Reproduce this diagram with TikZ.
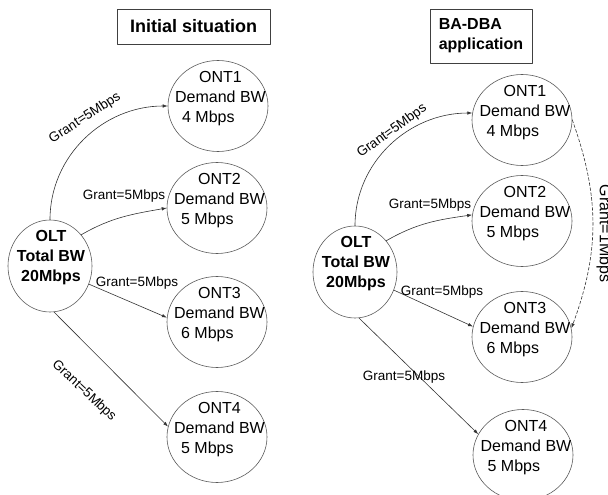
\documentclass[tikz,border=0pt]{standalone}
\usepackage{fontspec}
\setmainfont{Liberation Sans}
\usetikzlibrary{shapes.geometric,arrows.meta}
\begin{document}
\begin{tikzpicture}[x=1pt, y=1pt, line cap=round, line join=round, >={Latex[length=5pt,width=3.5pt]}]
	\tikzset{ont/.style={ellipse, draw=black!65, line width=0.6pt, minimum width=100pt, minimum height=91pt, inner sep=0pt},
		ont text/.style={align=left, inner sep=0pt, font=\fontsize{16}{20}\selectfont},
		olt text/.style={align=center, inner sep=0pt, font=\fontsize{16}{20}\selectfont\bfseries},
		grant/.style={inner sep=0pt, font=\fontsize{13.5}{16}\selectfont},
		link/.style={->, draw=black!80, line width=0.6pt},
		title box/.style={draw=black!75, line width=0.6pt, inner sep=0pt, font=\fontsize{16}{20}\selectfont\bfseries}}
	\useasboundingbox (0,0) rectangle (608,-495);
	% left half: initial situation
	\node[title box, minimum width=153pt, minimum height=35pt, font=\fontsize{18}{22}\selectfont\bfseries] (titleL) at (193.5,-26.5) {Initial situation};
	\node[ont, minimum width=84pt, minimum height=92pt] (oltL) at (50,-266) {};
	\node[olt text] at ([shift={(1,8)}]oltL.center) {OLT\\Total BW\\20Mbps};
	\node[ont] (ontL1) at (218,-106) {};
	\node[ont] (ontL2) at (217,-208) {};
	\node[ont] (ontL3) at (217,-322) {};
	\node[ont] (ontL4) at (217,-437) {};
	\node[ont text] at ([shift={(2.5,7)}]ontL1.center) {\hspace*{24pt}ONT1\\Demand BW\\\hspace*{7pt}4 Mbps};
	\node[ont text] at ([shift={(2.5,7)}]ontL2.center) {\hspace*{24pt}ONT2\\Demand BW\\\hspace*{7pt}5 Mbps};
	\node[ont text] at ([shift={(2.5,7)}]ontL3.center) {\hspace*{24pt}ONT3\\Demand BW\\\hspace*{7pt}6 Mbps};
	\node[ont text] at ([shift={(2.5,7)}]ontL4.center) {\hspace*{24pt}ONT4\\Demand BW\\\hspace*{7pt}5 Mbps};
	\draw[link] (oltL.north) to[out=90, in=180] (ontL1.west);
	\draw[link] (oltL.45) to[out=30, in=190] (ontL2.west);
	\draw[link] (oltL.-25) -- (ontL3.175);
	\draw[link] (oltL.-85) -- (ontL4.168);
	\node[grant, rotate=33] at (85,-118) {Grant=5Mbps};
	\node[grant] at (124,-196) {Grant=5Mbps};
	\node[grant] at (137,-283) {Grant=5Mbps};
	\node[grant, rotate=-43] at (84,-391) {Grant=5Mbps};
	% right half: BA-DBA application
	\node[title box, minimum width=102pt, minimum height=54pt, align=left] (titleR) at (481,-36) {BA-DBA\\application};
	\node[ont, minimum width=84pt, minimum height=92pt] (oltR) at (355,-272) {};
	\node[olt text] at ([shift={(1,8)}]oltR.center) {OLT\\Total BW\\20Mbps};
	\node[ont] (ontR1) at (522,-120) {};
	\node[ont] (ontR2) at (522,-221) {};
	\node[ont] (ontR3) at (522,-337) {};
	\node[ont] (ontR4) at (523,-455) {};
	\node[ont text] at ([shift={(3,7)}]ontR1.center) {\hspace*{24pt}ONT1\\Demand BW\\\hspace*{7pt}4 Mbps};
	\node[ont text] at ([shift={(3,7)}]ontR2.center) {\hspace*{24pt}ONT2\\Demand BW\\\hspace*{7pt}5 Mbps};
	\node[ont text] at ([shift={(3,7)}]ontR3.center) {\hspace*{24pt}ONT3\\Demand BW\\\hspace*{7pt}6 Mbps};
	\node[ont text] at ([shift={(3,7)}]ontR4.center) {\hspace*{24pt}ONT4\\Demand BW\\\hspace*{7pt}5 Mbps};
	\draw[link] (oltR.north) to[out=90, in=180] (ontR1.172);
	\draw[link] (oltR.45) to[out=30, in=188] (ontR2.173);
	\draw[link] (oltR.-25) -- (ontR3.168);
	\draw[link] (oltR.-85) -- (ontR4.155);
	\draw[link, dash pattern=on 3pt off 2pt] (ontR1.east) to[bend left=20] (ontR3.10);
	\node[grant, rotate=36] at (392,-131) {Grant=5Mbps};
	\node[grant] at (430,-205) {Grant=5Mbps};
	\node[grant] at (442,-292) {Grant=5Mbps};
	\node[grant] at (404,-377) {Grant=5Mbps};
	\node[grant, rotate=-90, font=\fontsize{16}{18}\selectfont] at (604,-233.5) {Grant=1Mbps};
\end{tikzpicture}
\end{document}
